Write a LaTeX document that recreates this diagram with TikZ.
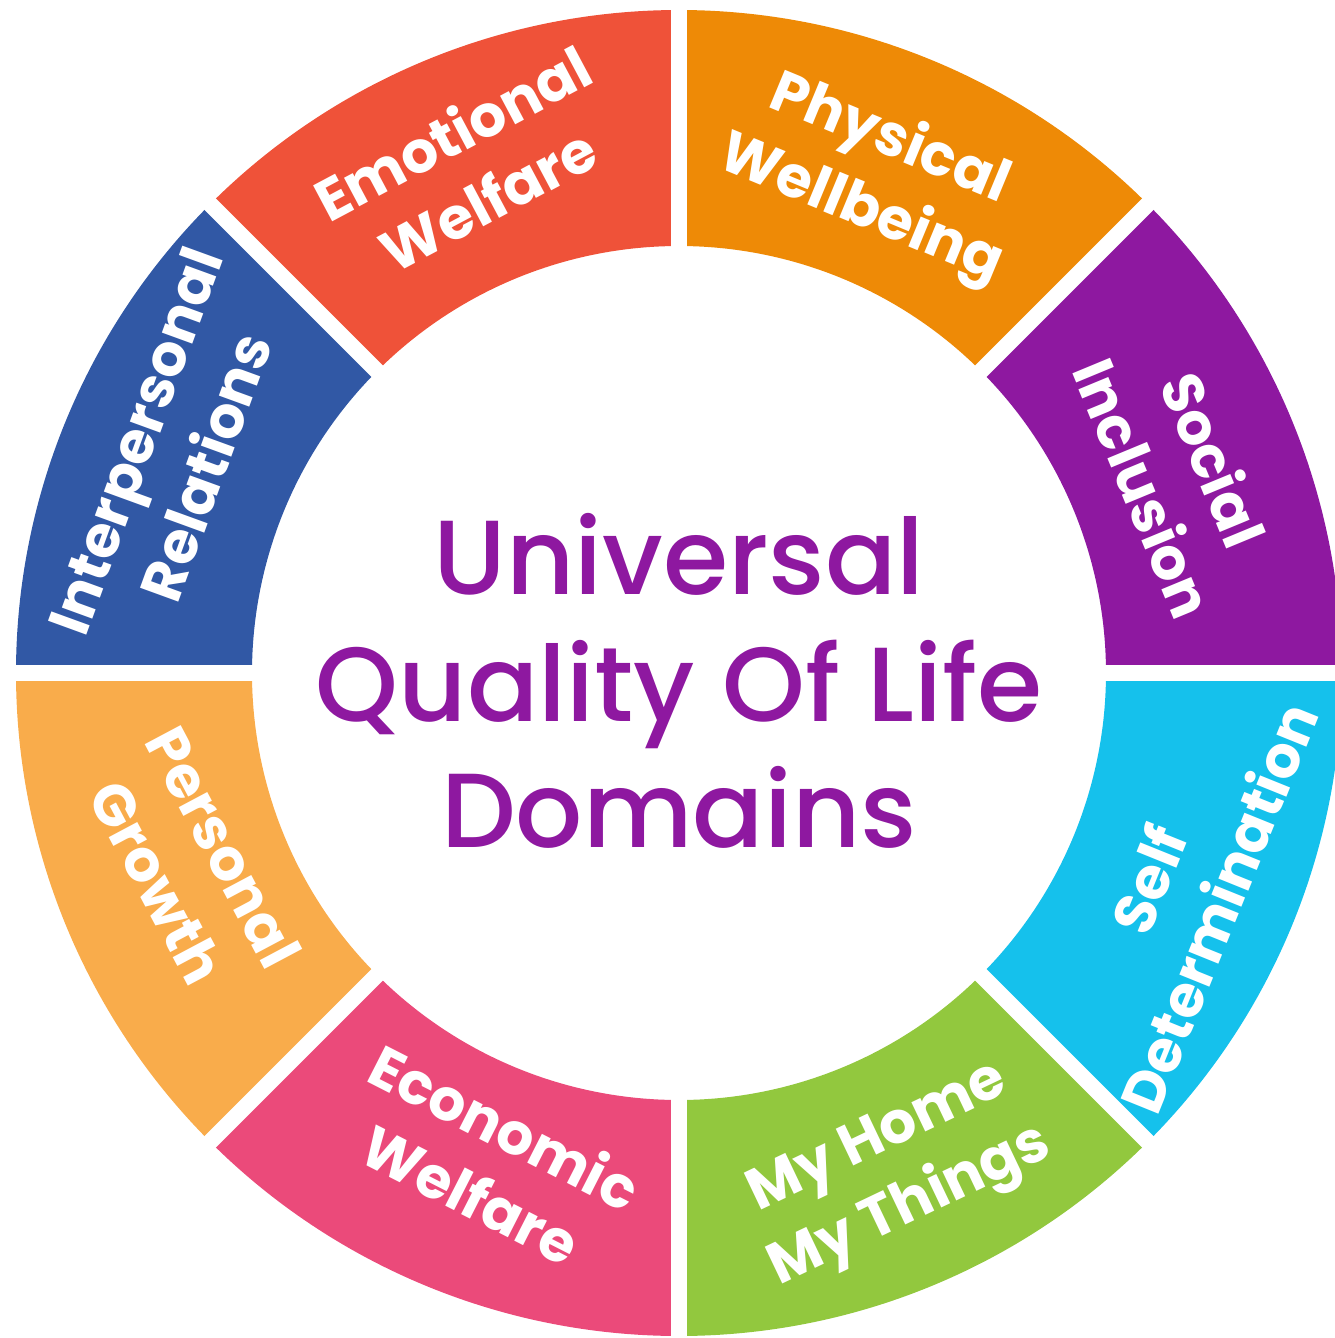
\documentclass[tikz,border=0pt]{standalone}
\usepackage{fontspec}
\setmainfont{Poppins}
\newfontfamily\titlefont{Poppins Medium}

\definecolor{colEmotional}{HTML}{EF5239}
\definecolor{colPhysical}{HTML}{EE8A06}
\definecolor{colSocial}{HTML}{8E18A0}
\definecolor{colSelf}{HTML}{15C1EC}
\definecolor{colHome}{HTML}{92C83E}
\definecolor{colEconomic}{HTML}{EB4A7A}
\definecolor{colPersonal}{HTML}{F9AC4B}
\definecolor{colInterpersonal}{HTML}{3158A5}

\begin{document}
\begin{tikzpicture}

    \tikzset{
      gapline/.style={
        color=white,
        line width=0.16cm,
      },
      qollabel/.style={
        text=white,
        font=\fontsize{16.5}{21.5}\selectfont\bfseries,
        align=center,
        inner sep=0pt,
      },
      qoltitle/.style={
        text=colSocial,
        font=\titlefont\fontsize{30}{36}\selectfont,
        align=center,
        inner sep=0pt,
      },
    }
    \clip (-6.79,-6.65) rectangle (6.56,6.73);

	\fill[color={colEmotional}] (90:4.27) arc[start angle=90,end angle=135,radius=4.27]--(135:6.63) arc[start angle=135,end angle=90,radius=6.63]--cycle;
	\fill[color={colPhysical}] (45:4.27) arc[start angle=45,end angle=90,radius=4.27]--(90:6.63) arc[start angle=90,end angle=45,radius=6.63]--cycle;
	\fill[color={colSocial}] (0:4.27) arc[start angle=0,end angle=45,radius=4.27]--(45:6.63) arc[start angle=45,end angle=0,radius=6.63]--cycle;
	\fill[color={colSelf}] (-45:4.27) arc[start angle=-45,end angle=0,radius=4.27]--(0:6.63) arc[start angle=0,end angle=-45,radius=6.63]--cycle;
	\fill[color={colHome}] (-90:4.27) arc[start angle=-90,end angle=-45,radius=4.27]--(-45:6.63) arc[start angle=-45,end angle=-90,radius=6.63]--cycle;
	\fill[color={colEconomic}] (-135:4.27) arc[start angle=-135,end angle=-90,radius=4.27]--(-90:6.63) arc[start angle=-90,end angle=-135,radius=6.63]--cycle;
	\fill[color={colPersonal}] (180:4.27) arc[start angle=180,end angle=225,radius=4.27]--(225:6.63) arc[start angle=225,end angle=180,radius=6.63]--cycle;
	\fill[color={colInterpersonal}] (135:4.27) arc[start angle=135,end angle=180,radius=4.27]--(180:6.63) arc[start angle=180,end angle=135,radius=6.63]--cycle;

	\draw[gapline] (0:4.1)--(0:6.9);
	\draw[gapline] (45:4.1)--(45:6.9);
	\draw[gapline] (90:4.1)--(90:6.9);
	\draw[gapline] (135:4.1)--(135:6.9);
	\draw[gapline] (180:4.1)--(180:6.9);
	\draw[gapline] (225:4.1)--(225:6.9);
	\draw[gapline] (270:4.1)--(270:6.9);
	\draw[gapline] (315:4.1)--(315:6.9);

	\node[qollabel, rotate=28] (emotional) at (112.4:5.49) {Emotional\\Welfare};
	\node[qollabel, rotate=-22.5] (physical) at (68.5:5.35) {Physical\\Wellbeing};
	\node[qollabel, rotate=-67.5] (social) at (21.7:5.39) {Social\\Inclusion};
	\node[qollabel, rotate=68] (self) at (-23.6:5.5) {Self\\Determination};
	\node[qollabel, rotate=25.5] (home) at (-66.7:5.46) {My Home\\My Things};
	\node[qollabel, rotate=-27] (economic) at (-111.4:5.23) {Economic\\Welfare};
	\node[qollabel, rotate=-62] (personal) at (-158.6:5.25) {Personal\\Growth};
	\node[qollabel, rotate=70] (interpersonal) at (156.7:5.54) {Interpersonal\\Relations};

	\node[qoltitle] (title) at (0,-0.08) {Universal\\Quality Of Life\\Domains};

\end{tikzpicture}
\end{document}
